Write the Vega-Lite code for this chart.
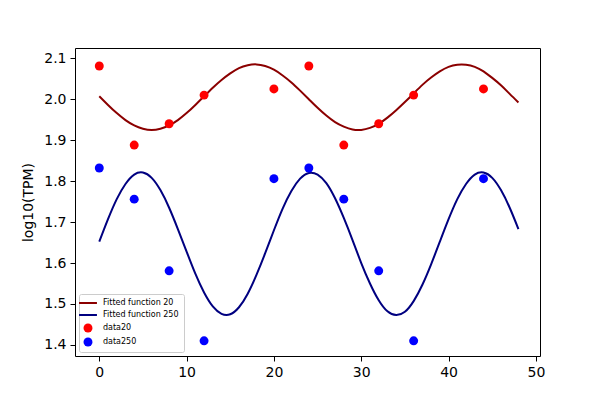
{
  "$schema": "https://vega.github.io/schema/vega-lite/v6.json",
  "width": 465,
  "height": 308,
  "autosize": {"type": "none"},
  "padding": {"left": 75, "top": 48, "right": 60, "bottom": 44},
  "background": "#ffffff",
  "config": {
    "font": "DejaVu Sans",
    "view": {"stroke": "#000000", "strokeWidth": 1},
    "axis": {
      "domain": false,
      "grid": false,
      "ticks": true,
      "tickColor": "#000000",
      "tickSize": 5,
      "tickWidth": 1,
      "labelColor": "#000000",
      "labelFont": "DejaVu Sans",
      "labelFontSize": 14,
      "labelPadding": 4,
      "titleColor": "#000000",
      "titleFont": "DejaVu Sans",
      "titleFontSize": 14,
      "titleFontWeight": "normal"
    }
  },
  "datasets": {
    "curves": [
      {"x": 0, "y": 2.007, "series": "Fitted function 20"},
      {"x": 1, "y": 1.986, "series": "Fitted function 20"},
      {"x": 2, "y": 1.966, "series": "Fitted function 20"},
      {"x": 3, "y": 1.949, "series": "Fitted function 20"},
      {"x": 4, "y": 1.936, "series": "Fitted function 20"},
      {"x": 5, "y": 1.928, "series": "Fitted function 20"},
      {"x": 6, "y": 1.925, "series": "Fitted function 20"},
      {"x": 7, "y": 1.928, "series": "Fitted function 20"},
      {"x": 8, "y": 1.936, "series": "Fitted function 20"},
      {"x": 9, "y": 1.949, "series": "Fitted function 20"},
      {"x": 10, "y": 1.966, "series": "Fitted function 20"},
      {"x": 11, "y": 1.986, "series": "Fitted function 20"},
      {"x": 12, "y": 2.007, "series": "Fitted function 20"},
      {"x": 13, "y": 2.028, "series": "Fitted function 20"},
      {"x": 14, "y": 2.047, "series": "Fitted function 20"},
      {"x": 15, "y": 2.063, "series": "Fitted function 20"},
      {"x": 16, "y": 2.076, "series": "Fitted function 20"},
      {"x": 17, "y": 2.083, "series": "Fitted function 20"},
      {"x": 18, "y": 2.085, "series": "Fitted function 20"},
      {"x": 19, "y": 2.081, "series": "Fitted function 20"},
      {"x": 20, "y": 2.072, "series": "Fitted function 20"},
      {"x": 21, "y": 2.058, "series": "Fitted function 20"},
      {"x": 22, "y": 2.041, "series": "Fitted function 20"},
      {"x": 23, "y": 2.021, "series": "Fitted function 20"},
      {"x": 24, "y": 2.000, "series": "Fitted function 20"},
      {"x": 25, "y": 1.979, "series": "Fitted function 20"},
      {"x": 26, "y": 1.960, "series": "Fitted function 20"},
      {"x": 27, "y": 1.944, "series": "Fitted function 20"},
      {"x": 28, "y": 1.933, "series": "Fitted function 20"},
      {"x": 29, "y": 1.926, "series": "Fitted function 20"},
      {"x": 30, "y": 1.925, "series": "Fitted function 20"},
      {"x": 31, "y": 1.930, "series": "Fitted function 20"},
      {"x": 32, "y": 1.940, "series": "Fitted function 20"},
      {"x": 33, "y": 1.955, "series": "Fitted function 20"},
      {"x": 34, "y": 1.973, "series": "Fitted function 20"},
      {"x": 35, "y": 1.993, "series": "Fitted function 20"},
      {"x": 36, "y": 2.014, "series": "Fitted function 20"},
      {"x": 37, "y": 2.035, "series": "Fitted function 20"},
      {"x": 38, "y": 2.053, "series": "Fitted function 20"},
      {"x": 39, "y": 2.068, "series": "Fitted function 20"},
      {"x": 40, "y": 2.079, "series": "Fitted function 20"},
      {"x": 41, "y": 2.084, "series": "Fitted function 20"},
      {"x": 42, "y": 2.084, "series": "Fitted function 20"},
      {"x": 43, "y": 2.079, "series": "Fitted function 20"},
      {"x": 44, "y": 2.068, "series": "Fitted function 20"},
      {"x": 45, "y": 2.052, "series": "Fitted function 20"},
      {"x": 46, "y": 2.034, "series": "Fitted function 20"},
      {"x": 47, "y": 2.013, "series": "Fitted function 20"},
      {"x": 48, "y": 1.992, "series": "Fitted function 20"},
      {"x": 0, "y": 1.652, "series": "Fitted function 250"},
      {"x": 1, "y": 1.707, "series": "Fitted function 250"},
      {"x": 2, "y": 1.756, "series": "Fitted function 250"},
      {"x": 3, "y": 1.793, "series": "Fitted function 250"},
      {"x": 4, "y": 1.816, "series": "Fitted function 250"},
      {"x": 5, "y": 1.821, "series": "Fitted function 250"},
      {"x": 6, "y": 1.808, "series": "Fitted function 250"},
      {"x": 7, "y": 1.778, "series": "Fitted function 250"},
      {"x": 8, "y": 1.735, "series": "Fitted function 250"},
      {"x": 9, "y": 1.683, "series": "Fitted function 250"},
      {"x": 10, "y": 1.628, "series": "Fitted function 250"},
      {"x": 11, "y": 1.574, "series": "Fitted function 250"},
      {"x": 12, "y": 1.528, "series": "Fitted function 250"},
      {"x": 13, "y": 1.494, "series": "Fitted function 250"},
      {"x": 14, "y": 1.476, "series": "Fitted function 250"},
      {"x": 15, "y": 1.475, "series": "Fitted function 250"},
      {"x": 16, "y": 1.492, "series": "Fitted function 250"},
      {"x": 17, "y": 1.525, "series": "Fitted function 250"},
      {"x": 18, "y": 1.571, "series": "Fitted function 250"},
      {"x": 19, "y": 1.624, "series": "Fitted function 250"},
      {"x": 20, "y": 1.680, "series": "Fitted function 250"},
      {"x": 21, "y": 1.733, "series": "Fitted function 250"},
      {"x": 22, "y": 1.776, "series": "Fitted function 250"},
      {"x": 23, "y": 1.806, "series": "Fitted function 250"},
      {"x": 24, "y": 1.820, "series": "Fitted function 250"},
      {"x": 25, "y": 1.816, "series": "Fitted function 250"},
      {"x": 26, "y": 1.795, "series": "Fitted function 250"},
      {"x": 27, "y": 1.758, "series": "Fitted function 250"},
      {"x": 28, "y": 1.710, "series": "Fitted function 250"},
      {"x": 29, "y": 1.656, "series": "Fitted function 250"},
      {"x": 30, "y": 1.600, "series": "Fitted function 250"},
      {"x": 31, "y": 1.550, "series": "Fitted function 250"},
      {"x": 32, "y": 1.509, "series": "Fitted function 250"},
      {"x": 33, "y": 1.482, "series": "Fitted function 250"},
      {"x": 34, "y": 1.473, "series": "Fitted function 250"},
      {"x": 35, "y": 1.481, "series": "Fitted function 250"},
      {"x": 36, "y": 1.507, "series": "Fitted function 250"},
      {"x": 37, "y": 1.547, "series": "Fitted function 250"},
      {"x": 38, "y": 1.597, "series": "Fitted function 250"},
      {"x": 39, "y": 1.652, "series": "Fitted function 250"},
      {"x": 40, "y": 1.707, "series": "Fitted function 250"},
      {"x": 41, "y": 1.756, "series": "Fitted function 250"},
      {"x": 42, "y": 1.793, "series": "Fitted function 250"},
      {"x": 43, "y": 1.816, "series": "Fitted function 250"},
      {"x": 44, "y": 1.821, "series": "Fitted function 250"},
      {"x": 45, "y": 1.808, "series": "Fitted function 250"},
      {"x": 46, "y": 1.778, "series": "Fitted function 250"},
      {"x": 47, "y": 1.735, "series": "Fitted function 250"},
      {"x": 48, "y": 1.683, "series": "Fitted function 250"}
    ],
    "points": [
      {"x": 0, "y": 2.081, "series": "data20"},
      {"x": 4, "y": 1.888, "series": "data20"},
      {"x": 8, "y": 1.940, "series": "data20"},
      {"x": 12, "y": 2.010, "series": "data20"},
      {"x": 20, "y": 2.025, "series": "data20"},
      {"x": 24, "y": 2.081, "series": "data20"},
      {"x": 28, "y": 1.888, "series": "data20"},
      {"x": 32, "y": 1.940, "series": "data20"},
      {"x": 36, "y": 2.010, "series": "data20"},
      {"x": 44, "y": 2.025, "series": "data20"},
      {"x": 0, "y": 1.832, "series": "data250"},
      {"x": 4, "y": 1.756, "series": "data250"},
      {"x": 8, "y": 1.581, "series": "data250"},
      {"x": 12, "y": 1.410, "series": "data250"},
      {"x": 20, "y": 1.806, "series": "data250"},
      {"x": 24, "y": 1.832, "series": "data250"},
      {"x": 28, "y": 1.756, "series": "data250"},
      {"x": 32, "y": 1.581, "series": "data250"},
      {"x": 36, "y": 1.410, "series": "data250"},
      {"x": 44, "y": 1.806, "series": "data250"}
    ]
  },
  "encoding": {
    "x": {
      "field": "x",
      "type": "quantitative",
      "scale": {"domain": [-2.78, 50.47], "nice": false, "zero": false},
      "axis": {"title": null, "values": [0, 10, 20, 30, 40, 50], "format": "d"}
    },
    "y": {
      "field": "y",
      "type": "quantitative",
      "scale": {"domain": [1.373, 2.125], "nice": false, "zero": false},
      "axis": {
        "title": "log10(TPM)",
        "values": [1.4, 1.5, 1.6, 1.7, 1.8, 1.9, 2.0, 2.1],
        "format": ".1f",
        "titlePadding": 8
      }
    }
  },
  "layer": [
    {
      "data": {"name": "curves"},
      "mark": {"type": "line", "strokeWidth": 2, "interpolate": "natural", "clip": true},
      "encoding": {
        "color": {
          "field": "series",
          "type": "nominal",
          "scale": {
            "domain": ["Fitted function 20", "Fitted function 250", "data20", "data250"],
            "range": ["#8b0000", "#000080", "#ff0000", "#0000ff"]
          },
          "legend": {
            "title": null,
            "orient": "bottom-left",
            "offset": 4,
            "padding": 5,
            "fillColor": "rgba(255,255,255,0.8)",
            "strokeColor": "#cccccc",
            "cornerRadius": 2,
            "labelFont": "DejaVu Sans",
            "labelFontSize": 8,
            "labelColor": "#000000",
            "labelOffset": 11,
            "rowPadding": 4,
            "symbolSize": 80,
            "encode": {
              "symbols": {
                "update": {
                  "shape": {"signal": "indexof(['data20','data250'], datum.value) >= 0 ? 'circle' : 'M-2,0H2'"},
                  "fill": {"scale": "color", "field": "value"},
                  "stroke": {"scale": "color", "field": "value"},
                  "strokeWidth": {"signal": "indexof(['data20','data250'], datum.value) >= 0 ? 0 : 2"}
                }
              }
            }
          }
        }
      }
    },
    {
      "data": {"name": "points"},
      "mark": {"type": "point", "filled": true, "opacity": 1, "size": 80},
      "encoding": {
        "color": {
          "field": "series",
          "type": "nominal"
        }
      }
    }
  ]
}
